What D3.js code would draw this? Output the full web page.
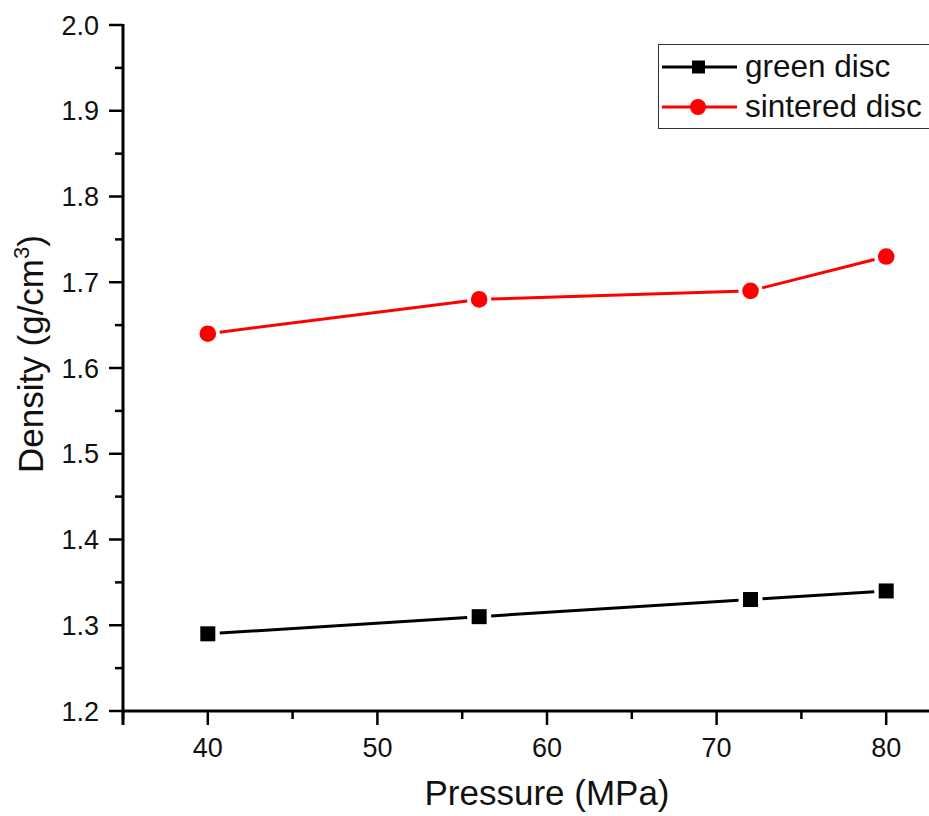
<!DOCTYPE html>
<html>
<head>
<meta charset="utf-8">
<script src="https://cdn.jsdelivr.net/npm/d3@7"></script>
<style>
  html, body { margin: 0; padding: 0; background: #fff; }
  svg { display: block; font-family: "Liberation Sans", Arial, sans-serif; }
</style>
</head>
<body>
<svg id="chart" width="929" height="816"></svg>
<script>
// Pressing pressure (MPa) and measured densities (g/cm³)
const pressure = [40, 56, 72, 80];
const greenDisc = [1.29, 1.31, 1.33, 1.34];
const sinteredDisc = [1.64, 1.68, 1.69, 1.73];
const seriesNames = ["green disc", "sintered disc"];
const xTicks = [40, 50, 60, 70, 80];
const yTicks = [1.2, 1.3, 1.4, 1.5, 1.6, 1.7, 1.8, 1.9, 2.0];

const svg = d3.select("#chart");
const x = d3.scaleLinear().domain([35, 85]).range([123, 971]);
const y = d3.scaleLinear().domain([1.2, 2.0]).range([711, 25]);

// minor ticks at half steps
const xMinor = d3.range(35, 86, 5).filter(v => !xTicks.includes(v));
const yMinor = d3.range(1.25, 2.0, 0.1).map(v => +v.toFixed(2));

const axisColor = "#000";
const textColor = "#111";

// x axis
const gx = svg.append("g");
gx.append("line").attr("x1", x(35)).attr("x2", 929).attr("y1", y(1.2)).attr("y2", y(1.2))
  .attr("stroke", axisColor).attr("stroke-width", 3);
gx.selectAll("line.maj").data(xTicks).join("line").attr("class", "maj")
  .attr("x1", d => x(d)).attr("x2", d => x(d)).attr("y1", y(1.2)).attr("y2", y(1.2) + 14)
  .attr("stroke", axisColor).attr("stroke-width", 2.5);
gx.selectAll("line.min").data(xMinor).join("line").attr("class", "min")
  .attr("x1", d => x(d)).attr("x2", d => x(d)).attr("y1", y(1.2)).attr("y2", y(1.2) + 8)
  .attr("stroke", axisColor).attr("stroke-width", 2.5);
gx.selectAll("text").data(xTicks).join("text")
  .attr("x", d => x(d)).attr("y", 757).attr("text-anchor", "middle")
  .attr("font-size", 27).attr("fill", textColor).text(d => d);

// y axis
const gy = svg.append("g");
gy.append("line").attr("x1", x(35)).attr("x2", x(35)).attr("y1", y(2.0) - 1).attr("y2", y(1.2) + 14)
  .attr("stroke", axisColor).attr("stroke-width", 3);
gy.selectAll("line.maj").data(yTicks).join("line").attr("class", "maj")
  .attr("x1", x(35) - 14).attr("x2", x(35)).attr("y1", d => y(d)).attr("y2", d => y(d))
  .attr("stroke", axisColor).attr("stroke-width", 2.5);
gy.selectAll("line.min").data(yMinor).join("line").attr("class", "min")
  .attr("x1", x(35) - 8).attr("x2", x(35)).attr("y1", d => y(d)).attr("y2", d => y(d))
  .attr("stroke", axisColor).attr("stroke-width", 2.5);
gy.selectAll("text").data(yTicks).join("text")
  .attr("x", 99).attr("y", d => y(d) + 9.5).attr("text-anchor", "end")
  .attr("font-size", 27).attr("fill", textColor).text(d => d.toFixed(1));

// axis titles
svg.append("text").attr("x", 547).attr("y", 805).attr("text-anchor", "middle")
  .attr("font-size", 35).attr("fill", textColor).text("Pressure (MPa)");
const yt = svg.append("text").attr("transform", "translate(43,354) rotate(-90)")
  .attr("text-anchor", "middle").attr("font-size", 35).attr("fill", textColor);
yt.append("tspan").text("Density (g/cm");
yt.append("tspan").attr("font-size", 22).attr("dy", -14).text("3");
yt.append("tspan").attr("dy", 14).text(")");

// connecting segments stop short of each marker
function drawSeries(values, color, gap) {
  const pts = pressure.map((p, i) => [x(p), y(values[i])]);
  const g = svg.append("g");
  for (let i = 0; i < pts.length - 1; i++) {
    const [x1, y1] = pts[i], [x2, y2] = pts[i + 1];
    const len = Math.hypot(x2 - x1, y2 - y1);
    const ux = (x2 - x1) / len, uy = (y2 - y1) / len;
    g.append("line")
      .attr("x1", x1 + ux * gap).attr("y1", y1 + uy * gap)
      .attr("x2", x2 - ux * gap).attr("y2", y2 - uy * gap)
      .attr("stroke", color).attr("stroke-width", 3);
  }
  return { g, pts };
}

const green = drawSeries(greenDisc, "#000", 12);
green.g.selectAll("rect").data(green.pts).join("rect")
  .attr("x", d => d[0] - 7.5).attr("y", d => d[1] - 7.5)
  .attr("width", 15).attr("height", 15).attr("fill", "#000");

const sint = drawSeries(sinteredDisc, "#ff0000", 12);
sint.g.selectAll("circle").data(sint.pts).join("circle")
  .attr("cx", d => d[0]).attr("cy", d => d[1]).attr("r", 8.3).attr("fill", "#ff0000");

// legend
const lg = svg.append("g");
lg.append("rect").attr("x", 658.5).attr("y", 44.5).attr("width", 280).attr("height", 84)
  .attr("fill", "#fff").attr("stroke", "#333").attr("stroke-width", 1);
const rows = [{ name: seriesNames[0], color: "#000", y: 67 }, { name: seriesNames[1], color: "#ff0000", y: 107 }];
rows.forEach((r, i) => {
  lg.append("line").attr("x1", 662).attr("x2", 737).attr("y1", r.y).attr("y2", r.y)
    .attr("stroke", r.color).attr("stroke-width", 3);
  if (i === 0) {
    lg.append("rect").attr("x", 692).attr("y", r.y - 6.5).attr("width", 13).attr("height", 13).attr("fill", "#000");
  } else {
    lg.append("circle").attr("cx", 698).attr("cy", r.y).attr("r", 8).attr("fill", "#ff0000");
  }
  lg.append("text").attr("x", 745).attr("y", r.y + 10).attr("font-size", 31.5).attr("fill", textColor).text(r.name);
});
</script>
</body>
</html>
